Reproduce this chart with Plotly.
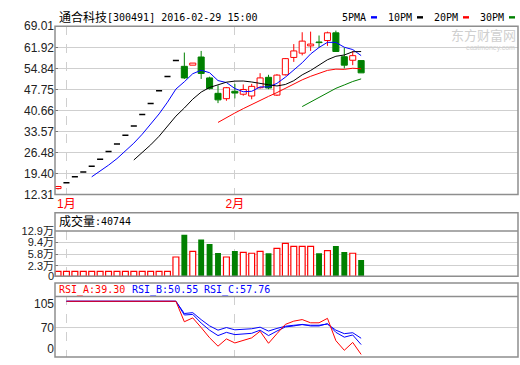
import plotly.graph_objects as go
import pandas as pd

# ---------------- data ----------------
month_tick_idx = [1, 21]
month_tick_text = ['1月', '2月']

opens  = [14.3, 16.3, 18.3, 19.9, 21.8, 24.2, 26.8, 29.3, 32.3, 35.4,
          39.3, 43.0, 47.3, 52.1, 57.5, 55.5, 55.9, 58.65, 51.6, 46.4,
          44.6, 47.1, 46.1, 45.5, 48.3, 51.8, 45.8, 52.65, 58.5, 59.95,
          62.4, 63.7, 64.2, 66.8, 58.75, 57.55, 57.45]
highs  = [15.2, 16.3, 18.3, 19.9, 21.8, 24.2, 26.8, 29.3, 32.3, 35.4,
          39.3, 43.0, 47.3, 52.1, 57.5, 60.15, 56.6, 60.7, 52.0, 49.1,
          48.55, 49.6, 49.4, 49.6, 53.2, 52.65, 52.9, 58.3, 63.0, 66.99,
          67.2, 65.9, 67.2, 67.55, 61.8, 60.7, 57.45]
lows   = [14.0, 16.3, 18.3, 19.9, 21.8, 24.2, 26.8, 29.3, 32.3, 35.4,
          39.3, 43.0, 47.3, 52.1, 57.5, 51.25, 55.9, 51.25, 47.7, 43.1,
          43.9, 44.7, 45.6, 44.4, 48.0, 47.8, 45.5, 52.4, 57.0, 59.2,
          60.7, 61.8, 62.4, 60.5, 54.8, 55.9, 53.3]
closes = [15.0, 16.3, 18.3, 19.9, 21.8, 24.2, 26.8, 29.3, 32.3, 35.4,
          39.3, 43.0, 47.3, 52.1, 57.5, 51.6, 56.6, 53.1, 48.0, 44.2,
          48.3, 46.5, 47.7, 48.75, 51.6, 48.2, 52.55, 58.1, 60.7, 64.0,
          63.0, 63.5, 66.8, 60.5, 55.9, 59.1, 53.3]
volume_wan = [0.53, 0.53, 0.53, 0.53, 0.53, 0.53, 0.53, 0.53, 0.53, 0.53,
              0.53, 0.53, 0.53, 0.53, 4.95, 11.8, 6.7, 10.3, 8.9, 6.2,
              4.95, 6.8, 6.4, 6.1, 6.7, 6.1, 7.6, 9.1, 8.2, 8.2,
              8.2, 6.1, 6.9, 8.3, 6.5, 6.1, 4.07]
rsi_a = [None] + [100] * 14 + [76.6, 81, 70, 58.3, 48.7, 57, 52.4, 55.3, 58.2, 65.8,
                               52, 63, 73.6, 77.3, 79.1, 75.4, 75.4, 80.5, 55, 44, 53, 39.3]
rsi_b = [None] + [100] * 14 + [84.3, 85, 75.1, 67, 60.8, 64.5, 61.9, 62.6, 63.4, 67,
                               60.8, 66, 70.7, 71.8, 73.6, 71.8, 71.8, 74.4, 64.5, 59, 61.5, 50.55]
rsi_c = [None] + [100] * 14 + [86, 87, 79, 71.9, 67, 70, 67.4, 68, 68.6, 70.4,
                               66, 69, 71.5, 72.6, 73.3, 72.6, 72.6, 74, 67, 63, 64.1, 57.76]

price_ticks = [12.31, 19.40, 26.48, 33.57, 40.66, 47.75, 54.84, 61.92, 69.01]
price_tick_text = ['12.31', '19.40', '26.48', '33.57', '40.66', '47.75', '54.84', '61.92', '69.01']
vol_floor = -0.94          # bottom of the volume panel, labelled "0" in the reference
vol_ticks = [vol_floor, 2.3, 5.8, 9.4, 12.9]
vol_tick_text = ['0', '2.3万', '5.8万', '9.4万', '12.9万']
rsi_tick_vals = [96.7, 70, 46.2]
rsi_tick_text = ['105', '70', '0']

ma_periods = [5, 10, 20, 30]
ma_names = ['5PMA', '10PM', '20PM', '30PM']
ma_colors = ['#0000ff', '#000000', '#ff0000', '#008000']

title_cn = '通合科技'
title_rest = '[300491] 2016-02-29 15:00'
vol_title_cn = '成交量'
vol_title_rest = ':40744'
rsi_labels = ['RSI_A:39.30', 'RSI_B:50.55', 'RSI_C:57.76']
rsi_label_colors = ['#ff0000', '#0000ff', '#0000ff']

# ---------------- styling helpers ----------------
W, H = 520, 365
RED, GREEN = '#ff0000', '#008000'
GRID = '#cfcfcf'
FRAME = '#8e8e8e'
TXT = '#222222'
SANS = 'Liberation Sans, Arial, Noto Sans CJK SC'
MONO = 'DejaVu Sans Mono, Liberation Mono, monospace'
CJK = 'Noto Sans CJK SC'


def px(xp):
    return xp / W


def py(yp):
    return 1 - yp / H


n = len(closes)
xs = list(range(n))
up = [c >= o for o, c in zip(opens, closes)]
flat = [h == l for h, l in zip(highs, lows)]
BODY_W = 0.72

fig = go.Figure()

# wicks
for color, cond in ((RED, True), (GREEN, False)):
    wx, wy = [], []
    for i in xs:
        if flat[i] or up[i] != cond:
            continue
        top = max(opens[i], closes[i])
        bot = min(opens[i], closes[i])
        if highs[i] > top:
            wx += [i, i, None]
            wy += [top, highs[i], None]
        if lows[i] < bot:
            wx += [i, i, None]
            wy += [bot, lows[i], None]
    fig.add_trace(go.Scatter(x=wx, y=wy, mode='lines', line=dict(color=color, width=1),
                             hoverinfo='skip', showlegend=False, xaxis='x', yaxis='y'))

# one-price (limit) days drawn as dashes
dx, dy = [], []
for i in xs:
    if flat[i]:
        dx += [i - BODY_W / 2, i + BODY_W / 2, None]
        dy += [closes[i], closes[i], None]
fig.add_trace(go.Scatter(x=dx, y=dy, mode='lines', line=dict(color='#000000', width=1.5),
                         hoverinfo='skip', showlegend=False, xaxis='x', yaxis='y'))

# candle bodies
for cond in (True, False):
    bx = [i for i in xs if not flat[i] and up[i] == cond]
    base = [min(opens[i], closes[i]) for i in bx]
    hgt = [max(abs(closes[i] - opens[i]), 0.15) for i in bx]
    fig.add_trace(go.Bar(
        x=bx, y=hgt, base=base, width=BODY_W,
        marker=dict(color='#ffffff' if cond else GREEN,
                    line=dict(color=RED if cond else GREEN, width=1)),
        hoverinfo='skip', showlegend=False, xaxis='x', yaxis='y'))

# moving averages
cs = pd.Series(closes)
for p, col in zip(ma_periods, ma_colors):
    ma = cs.rolling(p).mean()
    fig.add_trace(go.Scatter(x=xs, y=ma, mode='lines', line=dict(color=col, width=1),
                             hoverinfo='skip', showlegend=False, xaxis='x', yaxis='y'))

# volume (bars rise from the panel floor)
for cond in (True, False):
    vx = [i for i in xs if up[i] == cond]
    vy = [volume_wan[i] - vol_floor for i in vx]
    fig.add_trace(go.Bar(
        x=vx, y=vy, base=[vol_floor] * len(vx), width=0.7,
        marker=dict(color='#ffffff' if cond else GREEN,
                    line=dict(color=RED if cond else GREEN, width=1.2 if cond else 0)),
        hoverinfo='skip', showlegend=False, xaxis='x2', yaxis='y2'))

# RSI
for ser, col in ((rsi_c, '#0000ff'), (rsi_b, '#0000ff'), (rsi_a, '#ff0000')):
    fig.add_trace(go.Scatter(x=xs, y=ser, mode='lines', line=dict(color=col, width=1),
                             hoverinfo='skip', showlegend=False, xaxis='x3', yaxis='y3'))

# ---------------- layout ----------------
x_range = [-0.36, 54.63]
xdom = [px(55), px(518)]
common_x = dict(range=x_range, domain=xdom, tickmode='array', tickvals=month_tick_idx,
                showgrid=True, gridcolor=GRID, griddash='dash', gridwidth=1,
                zeroline=False, showline=False, fixedrange=True)
ytick_font = dict(family=SANS, size=12, color=TXT)

fig.update_layout(
    width=W, height=H, autosize=False,
    margin=dict(l=0, r=0, t=0, b=0),
    paper_bgcolor='#ffffff', plot_bgcolor='#ffffff',
    barmode='overlay', showlegend=False,
    xaxis=dict(**common_x, anchor='y', ticktext=month_tick_text,
               tickfont=dict(family=SANS + ', ' + CJK, size=12, color=RED), ticks=''),
    yaxis=dict(domain=[py(195), py(20)], range=[12.30, 69.02], tickmode='array',
               tickvals=price_ticks, ticktext=price_tick_text, tickfont=ytick_font,
               showgrid=True, gridcolor=GRID, zeroline=False, ticks='inside',
               ticklen=3, tickcolor='#777777', anchor='x', fixedrange=True),
    xaxis2=dict(**common_x, anchor='y2', matches='x', showticklabels=False, ticks=''),
    yaxis2=dict(domain=[py(280), py(233)], range=[vol_floor, 12.9], tickmode='array',
                tickvals=vol_ticks, ticktext=vol_tick_text,
                tickfont=dict(family=SANS + ', ' + CJK, size=11, color=TXT),
                showgrid=True, gridcolor=GRID, zeroline=False, ticks='inside',
                ticklen=3, tickcolor='#777777', anchor='x2', fixedrange=True),
    xaxis3=dict(**common_x, anchor='y3', matches='x', showticklabels=False, ticks=''),
    yaxis3=dict(domain=[py(364), py(301)], range=[36.3, 105.5], tickmode='array',
                tickvals=rsi_tick_vals, ticktext=rsi_tick_text, tickfont=ytick_font,
                showgrid=False, zeroline=False, ticks='', anchor='x3', fixedrange=True),
)

shapes = []
# RSI 70 reference line
shapes.append(dict(type='line', xref='x3 domain', yref='y3', x0=0, x1=1, y0=70, y1=70,
                   line=dict(color=GRID, width=1), layer='below'))
# frames
for (t, b) in ((20, 195), (214, 280), (287, 364)):
    shapes.append(dict(type='rect', xref='paper', yref='paper', x0=px(55), x1=px(518),
                       y0=py(b), y1=py(t), line=dict(color=FRAME, width=1.5)))
for yl in (233, 301):
    shapes.append(dict(type='line', xref='paper', yref='paper', x0=px(55), x1=px(518),
                       y0=py(yl), y1=py(yl), line=dict(color=FRAME, width=1.5)))
# legend swatches
for x0, col in zip((371, 417, 463, 509), ma_colors):
    shapes.append(dict(type='rect', xref='paper', yref='paper', x0=px(x0), x1=px(x0 + 6),
                       y0=py(12), y1=py(9.5), line=dict(width=0), fillcolor=col))
fig.update_layout(shapes=shapes)

ann = []
# title
ann.append(dict(text=title_cn, x=px(57), y=py(10), xref='paper', yref='paper',
                xanchor='left', yanchor='middle', showarrow=False,
                font=dict(family=CJK, size=12, color='#000000')))
ann.append(dict(text=title_rest, x=px(105), y=py(10.5), xref='paper', yref='paper',
                xanchor='left', yanchor='middle', showarrow=False,
                font=dict(family=MONO, size=10, color='#000000')))
# MA legend labels
for xl, name in zip((340, 386, 432, 478), ma_names):
    ann.append(dict(text=name, x=px(xl), y=py(10.5), xref='paper', yref='paper',
                    xanchor='left', yanchor='middle', showarrow=False,
                    font=dict(family=MONO, size=10, color='#000000')))
# watermark
ann.append(dict(text='东方财富网', x=px(518), y=py(29), xref='paper', yref='paper',
                xanchor='right', yanchor='middle', showarrow=False,
                font=dict(family=CJK, size=13, color='#cfcfcf')))
ann.append(dict(text='eastmoney.com', x=px(517), y=py(43), xref='paper', yref='paper',
                xanchor='right', yanchor='middle', showarrow=False,
                font=dict(family=SANS, size=7, color='#d2d2d2')))
# volume header
ann.append(dict(text=vol_title_cn, x=px(57), y=py(222.5), xref='paper', yref='paper',
                xanchor='left', yanchor='middle', showarrow=False,
                font=dict(family=CJK, size=12, color='#000000')))
ann.append(dict(text=vol_title_rest, x=px(93), y=py(223), xref='paper', yref='paper',
                xanchor='left', yanchor='middle', showarrow=False,
                font=dict(family=MONO, size=10, color='#000000')))
# RSI header
for k, (lab, col) in enumerate(zip(rsi_labels, rsi_label_colors)):
    ann.append(dict(text=lab, x=px(57 + k * 72.5), y=py(294), xref='paper', yref='paper',
                    xanchor='left', yanchor='middle', showarrow=False,
                    font=dict(family=MONO, size=10, color=col)))
fig.update_layout(annotations=ann)

fig.write_html("out.html",
               config={'displayModeBar': False, 'staticPlot': True},
               post_script="document.body.style.margin='0';"
                           "document.documentElement.style.overflow='hidden';")
